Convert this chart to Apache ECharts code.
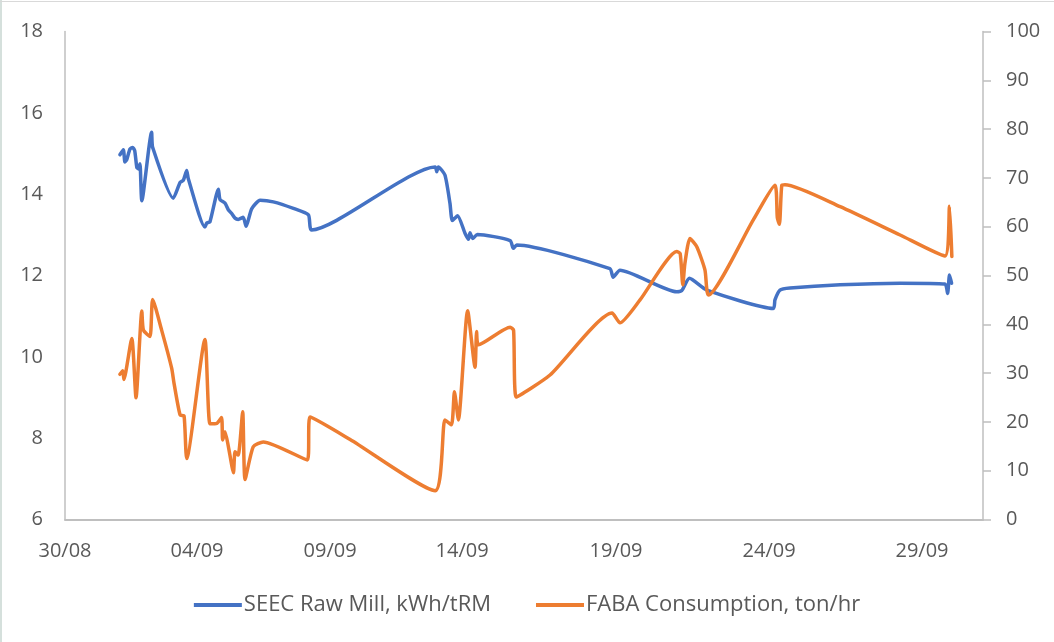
<!DOCTYPE html>
<html>
<head>
<meta charset="utf-8">
<script src="https://cdn.jsdelivr.net/npm/echarts@6/dist/echarts.min.js"></script>
<style>
html,body{margin:0;padding:0;background:#fff;}
#c{width:1054px;height:642px;}
</style>
</head>
<body>
<div id="c"></div>
<script>
// x values: days after 30/08
const tickLabels = ['30/08','04/09','09/09','14/09','19/09','24/09','29/09'];
const tickPositions = [0, 5.0, 10.04, 15.04, 20.87, 26.67, 32.46];
const leftTicks = [6, 8, 10, 12, 14, 16, 18];
const rightTicks = [0, 10, 20, 30, 40, 50, 60, 70, 80, 90, 100];

const seecName = 'SEEC Raw Mill, kWh/tRM';
const seecDay = [2.08,2.21,2.27,2.34,2.46,2.56,2.64,2.72,2.78,2.84,2.91,3.28,3.32,4.10,4.36,4.48,4.61,4.67,5.30,5.37,5.49,5.81,5.87,6.06,6.19,6.31,6.44,6.56,6.75,6.86,7.07,7.39,7.89,8.65,9.22,9.34,14.02,14.08,14.14,14.39,14.58,14.67,14.87,15.15,15.28,15.34,15.44,15.62,16.86,16.98,17.11,20.64,20.76,21.02,23.17,23.36,23.65,24.31,26.83,26.89,27.08,27.46,29.36,31.63,33.33,33.43,33.50,33.58];
const seecValue = [14.97,15.09,14.79,14.85,15.11,15.15,15.07,14.66,14.62,14.75,13.84,15.52,15.15,13.90,14.29,14.34,14.58,14.38,13.19,13.29,13.32,14.12,13.87,13.78,13.61,13.53,13.41,13.38,13.43,13.21,13.64,13.85,13.81,13.65,13.49,13.12,14.67,14.55,14.67,14.47,13.78,13.35,13.47,13.04,12.89,13.05,12.91,13.01,12.86,12.67,12.75,12.17,11.96,12.13,11.60,11.63,11.93,11.64,11.19,11.40,11.64,11.69,11.77,11.81,11.79,11.56,12.01,11.81];

const fabaName = 'FABA Consumption, ton/hr';
const fabaDay = [2.08,2.19,2.23,2.53,2.69,2.91,2.97,3.22,3.32,3.66,4.04,4.13,4.36,4.51,4.61,5.30,5.49,5.75,5.93,5.97,6.06,6.19,6.38,6.44,6.56,6.73,6.82,7.13,7.51,9.18,9.28,10.80,14.02,14.39,14.64,14.75,14.90,15.25,15.53,15.59,15.66,16.86,16.99,17.09,18.37,20.72,21.02,21.78,23.17,23.30,23.40,23.48,23.67,23.93,24.24,24.37,26.07,26.89,26.98,27.06,27.15,27.27,29.36,31.63,33.33,33.50,33.59];
const fabaValue = [29.75,30.5,28.7,37.1,24.96,42.7,38.8,37.5,45.1,38.8,31.0,27.9,21.4,21.2,12.5,36.9,19.6,19.7,20.9,16.3,18.0,14.9,9.6,13.9,13.2,22.1,8.2,14.9,15.9,12.2,21.0,16.4,5.9,20.4,19.4,26.2,20.4,42.8,31.2,38.5,35.8,39.4,38.8,25.1,29.6,42.3,40.3,45.0,54.9,54.5,48.1,52.5,57.6,55.9,51.1,46.0,61.4,68.5,61.8,60.5,68.5,68.6,64.1,58.3,54.0,64.2,53.9];

const seecData = seecDay.map((d, i) => [d, seecValue[i]]);
const fabaData = fabaDay.map((d, i) => [d, fabaValue[i]]);

const FONT = 'Open Sans';
const TXT = '#595959';
const AX = '#bfbfbf';

const chart = echarts.init(document.getElementById('c'), null, {renderer: 'canvas'});
chart.setOption({
  animation: false,
  backgroundColor: '#ffffff',
  textStyle: {fontFamily: FONT},
  graphic: [
    {type: 'rect', left: 0, top: 0, shape: {width: 2, height: 642}, style: {fill: '#d5e0dc'}, silent: true},
    {type: 'rect', left: 0, top: 1, shape: {width: 1054, height: 1}, style: {fill: '#d9d9d9'}, silent: true}
  ],
  grid: {left: 65, right: 71, top: 31.5, bottom: 122.5, containLabel: false},
  legend: {
    bottom: 21,
    left: 'center',
    itemGap: 45,
    itemWidth: 48,
    itemHeight: 4,
    icon: 'rect',
    textStyle: {color: TXT, fontSize: 22, fontFamily: FONT, padding: [0, 0, 0, -3]},
    data: [seecName, fabaName]
  },
  xAxis: {
    type: 'value',
    min: 0,
    max: 34.77,
    splitLine: {show: false},
    axisLine: {show: true, lineStyle: {color: AX, width: 2}},
    axisTick: {show: false},
    axisLabel: {
      customValues: tickPositions,
      color: TXT,
      fontSize: 20,
      fontFamily: FONT,
      margin: 22,
      showMinLabel: true,
      showMaxLabel: true,
      formatter: function (v) {
        let best = 0, bd = 1e9;
        tickPositions.forEach((p, i) => { const dd = Math.abs(p - v); if (dd < bd) { bd = dd; best = i; } });
        return tickLabels[best];
      }
    }
  },
  yAxis: [
    {
      type: 'value', min: 6, max: 18, interval: 2,
      position: 'left',
      splitLine: {show: false},
      axisLine: {show: true, lineStyle: {color: AX, width: 1.5}},
      axisTick: {show: false},
      axisLabel: {color: TXT, fontSize: 20, fontFamily: FONT, margin: 22,
        formatter: v => leftTicks.includes(v) ? String(v) : ''}
    },
    {
      type: 'value', min: 0, max: 100, interval: 10,
      position: 'right',
      splitLine: {show: false},
      axisLine: {show: true, lineStyle: {color: AX, width: 1.5}},
      axisTick: {show: true, inside: false, length: 8, lineStyle: {color: AX, width: 1.5}},
      axisLabel: {color: TXT, fontSize: 20, fontFamily: FONT, margin: 23,
        formatter: v => rightTicks.includes(v) ? String(v) : ''}
    }
  ],
  series: [
    {
      name: seecName, type: 'line', yAxisIndex: 0, data: seecData,
      smooth: 0.2, showSymbol: false, symbol: 'none',
      lineStyle: {color: '#4472c4', width: 3.5, cap: 'round', join: 'round'},
      itemStyle: {color: '#4472c4'}
    },
    {
      name: fabaName, type: 'line', yAxisIndex: 1, data: fabaData,
      smooth: 0.2, showSymbol: false, symbol: 'none',
      lineStyle: {color: '#ed7d31', width: 3.5, cap: 'round', join: 'round'},
      itemStyle: {color: '#ed7d31'}
    }
  ]
});
</script>
</body>
</html>
